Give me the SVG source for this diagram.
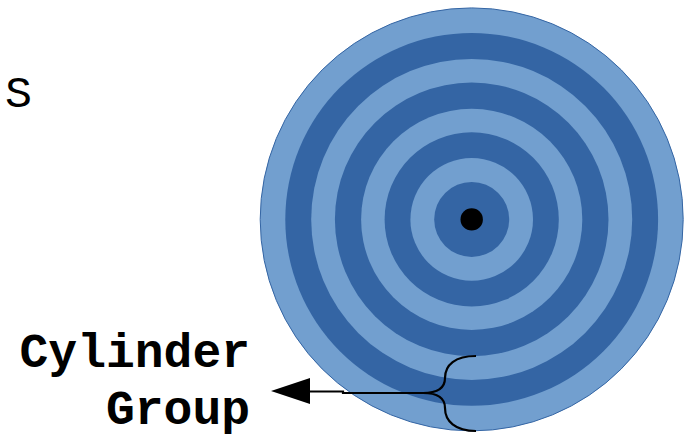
<svg xmlns="http://www.w3.org/2000/svg" width="693" height="439" viewBox="0 0 693 439">
<style>
.light{fill:#729fcf}
.dark{fill:#3465a4}
.mono{font-family:"Liberation Mono","Courier New",monospace;fill:#000}
.lbl{font-weight:bold;font-size:48px;text-anchor:end}
.conn{fill:none;stroke:#000;stroke-width:2.2}
</style>
<rect width="693" height="439" fill="#fff"/>
<g id="label-s">
<text class="mono" x="5" y="106.5" font-size="45">S</text>
</g>
<g id="platter">
<circle class="light" cx="471.7" cy="219.4" r="211.5" stroke="#3465a4" stroke-width="1"/>
<circle class="dark" cx="471.7" cy="219.4" r="186.4"/>
<circle class="light" cx="471.7" cy="219.4" r="160.5"/>
<circle class="dark" cx="471.7" cy="219.4" r="136.8"/>
<circle class="light" cx="471.7" cy="219.4" r="110.6"/>
<circle class="dark" cx="471.7" cy="219.4" r="87.1"/>
<circle class="light" cx="471.7" cy="219.4" r="61.3"/>
<circle class="dark" cx="471.7" cy="219.4" r="37.5"/>
<circle fill="#000" cx="471.7" cy="219.4" r="11.2"/>
</g>
<g id="label-cylinder-group">
<text class="mono lbl" x="250" y="367">Cylinder</text>
<text class="mono lbl" x="250" y="424">Group</text>
</g>
<g id="connectors">
<path class="conn" d="M476,356 C455,356 445,365 445,378 C445,388 438,393 423,393 C438,393 445,398 445,408 C445,421 455,431 476,431"/>
<path class="conn" d="M423,393 H343 V391.5 H306"/>
<polygon points="271,391 310,378 310,404" fill="#000"/>
</g>
</svg>
